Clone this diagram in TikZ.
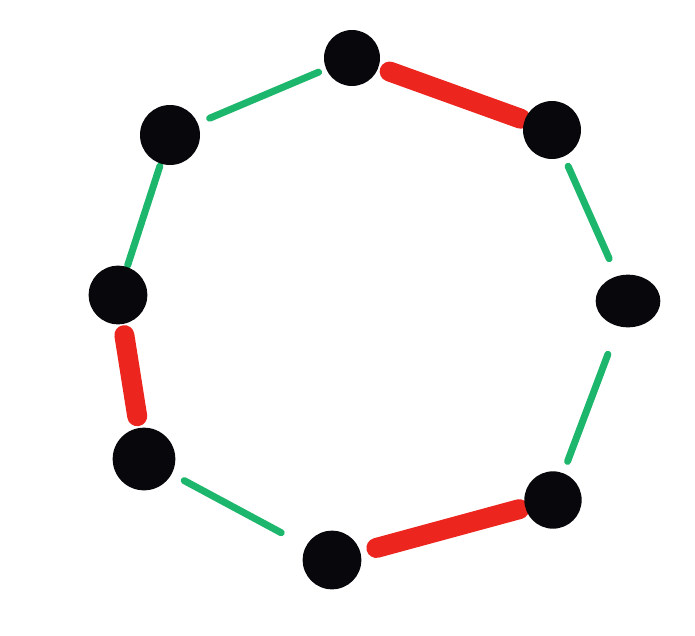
\documentclass[tikz,border=0pt]{standalone}
\usetikzlibrary{calc,shapes.geometric,backgrounds}
\definecolor{penGreen}{RGB}{28,182,108}
\definecolor{penRed}{RGB}{236,38,30}
\definecolor{ink}{RGB}{8,8,12}
\tikzset{
  dot/.style={circle, fill=ink, draw=none, inner sep=0pt, minimum size=1.7cm},
  gline/.style={penGreen, line width=0.21cm, line cap=round},
  rline/.style={penRed, line width=0.6cm, line cap=round}
}
\begin{document}
\begin{tikzpicture}[x=0.03cm, y=-0.03cm]
\useasboundingbox (0,0) rectangle (695,635);
% dots
\node[dot, minimum size=1.68cm] (n1) at (352,58) {};
\node[dot, minimum size=1.74cm] (n2) at (552,130) {};
\node[ellipse, fill=ink, inner sep=0pt, minimum width=1.94cm, minimum height=1.58cm] (n3) at (628,301) {};
\node[dot, minimum size=1.72cm] (n4) at (553,500) {};
\node[dot, minimum size=1.76cm] (n5) at (332,560) {};
\node[dot, minimum size=1.88cm] (n6) at (144,459) {};
\node[dot, minimum size=1.76cm] (n7) at (118,295) {};
\node[dot, minimum size=1.8cm] (n8) at (170,135) {};
% connectors, behind the dots
\begin{pgfonlayer}{background}
\fill[white] (0,0) rectangle (695,635);
\draw[gline] ($(n8)!1.29cm!(n1)$) -- ($(n1)!1.09cm!(n8)$);
\draw[rline] ($(n1)!1.2cm!(n2)$) -- ($(n2)!1.0cm!(n1)$);
\draw[gline] ($(n2)!1.19cm!(n3)$) -- ($(n3)!1.39cm!(n2)$);
\draw[gline] ($(n3)!1.71cm!(n4)$) -- ($(n4)!1.24cm!(n3)$);
\draw[rline] ($(n4)!1.05cm!(n5)$) -- ($(n5)!1.38cm!(n4)$);
\draw[gline] ($(n5)!1.73cm!(n6)$) -- ($(n6)!1.37cm!(n5)$);
\draw[rline] ($(n6)!1.3cm!(n7)$) -- ($(n7)!1.22cm!(n6)$);
\draw[gline] ($(n7)!0.93cm!(n8)$) -- ($(n8)!0.98cm!(n7)$);
\end{pgfonlayer}
\end{tikzpicture}
\end{document}
